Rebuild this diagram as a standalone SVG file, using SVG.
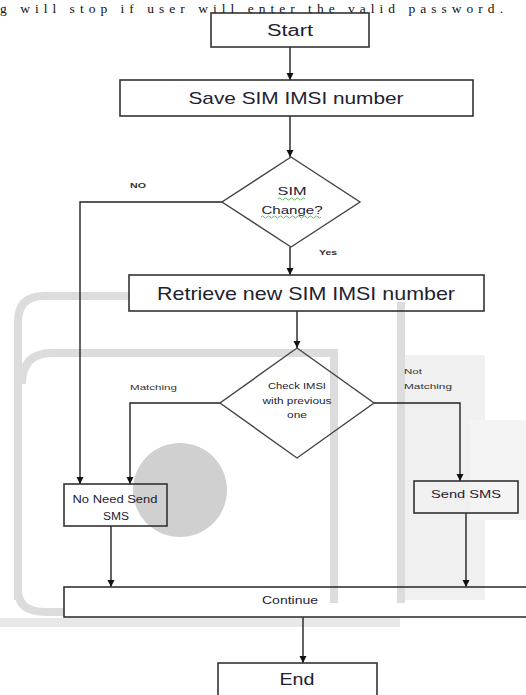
<svg xmlns="http://www.w3.org/2000/svg" width="526" height="695" viewBox="0 0 526 695">
<style>
.box{fill:none;stroke:#333;stroke-width:1.6}
.dia{fill:none;stroke:#444;stroke-width:1.4}
.t{font-family:"Liberation Sans",Arial,sans-serif;fill:#1e2233;text-anchor:middle;dominant-baseline:central}
.s{font-family:"Liberation Sans",Arial,sans-serif;fill:#333;dominant-baseline:central}
.c{fill:none;stroke:#222;stroke-width:1.4}
.wm{fill:none;stroke:#dcdcdc;stroke-width:8}
</style>
<defs>
<marker id="ah" markerUnits="userSpaceOnUse" markerWidth="8" markerHeight="8" refX="7" refY="4" orient="auto">
<path d="M0,0.5 L7,4 L0,7.5 z" fill="#111"/>
</marker>
</defs>
<rect width="526" height="695" fill="#fff"/>
<text x="0" y="12.5" font-family="'Liberation Serif','Times New Roman',serif" font-size="13.5" fill="#111" textLength="503" lengthAdjust="spacing">g will stop if user will enter the valid password.</text>
<g id="watermark">
<rect x="405" y="355" width="80" height="245" fill="#f0f0f0"/>
<rect x="470" y="420" width="56" height="100" fill="#f4f4f4"/>
<path class="wm" d="M 18,600 L 18,322 Q 18,296 44,296 L 129,296"/>
<path class="wm" d="M 401,302 L 401,603"/>
<path class="wm" d="M 22,384 Q 22,353 52,353 L 334,353 L 334,603"/>
<path class="wm" d="M 18,590 Q 18,612 46,612 L 64,612"/>
<rect x="0" y="618" width="400" height="9" fill="#e8e8e8"/>
<circle cx="180" cy="490" r="47" fill="#d0d0d0"/>
</g>
<g id="connectors">
<line class="c" x1="290" y1="47" x2="290" y2="80" marker-end="url(#ah)"/>
<line class="c" x1="290" y1="116" x2="290" y2="157" marker-end="url(#ah)"/>
<polyline class="c" points="222,202 80,202 80,484" marker-end="url(#ah)"/>
<line class="c" x1="290" y1="247" x2="290" y2="275" marker-end="url(#ah)"/>
<line class="c" x1="297" y1="311" x2="297" y2="348" marker-end="url(#ah)"/>
<polyline class="c" points="220,403 130,403 130,484" marker-end="url(#ah)"/>
<polyline class="c" points="374,403 460,403 460,481" marker-end="url(#ah)"/>
<line class="c" x1="111" y1="526" x2="111" y2="587" marker-end="url(#ah)"/>
<line class="c" x1="466" y1="513" x2="466" y2="587" marker-end="url(#ah)"/>
<line class="c" x1="303" y1="617" x2="303" y2="663" marker-end="url(#ah)"/>
<text class="s" x="130" y="185" font-size="7" font-weight="bold" textLength="16" lengthAdjust="spacingAndGlyphs">NO</text>
<text class="s" x="319" y="252" font-size="7" font-weight="bold" textLength="18" lengthAdjust="spacingAndGlyphs">Yes</text>
<text class="s" x="130" y="387" font-size="8" textLength="47" lengthAdjust="spacingAndGlyphs">Matching</text>
<text class="s" x="404" y="371" font-size="8" textLength="18" lengthAdjust="spacingAndGlyphs">Not</text>
<text class="s" x="404" y="386" font-size="8" textLength="48" lengthAdjust="spacingAndGlyphs">Matching</text>
</g>
<g id="start">
<rect class="box" x="211" y="13" width="158" height="34"/>
<text class="t" x="290" y="30" font-size="16" textLength="46" lengthAdjust="spacingAndGlyphs">Start</text>
</g>
<g id="save">
<rect class="box" x="120" y="80" width="353" height="36"/>
<text class="t" x="296" y="98" font-size="17" textLength="215" lengthAdjust="spacingAndGlyphs">Save SIM IMSI number</text>
</g>
<g id="simchange">
<polygon class="dia" points="291,157 360,202 291,247 222,202"/>
<text class="t" x="292" y="191" font-size="11" textLength="29" lengthAdjust="spacingAndGlyphs">SIM</text>
<text class="t" x="292" y="210" font-size="11" textLength="61" lengthAdjust="spacingAndGlyphs">Change?</text>
<path d="M278,199 q1.5,-2 3,0 t3,0 t3,0 t3,0 t3,0 t3,0 t3,0 t3,0 t3,0 M261,217 q1.5,-2 3,0 t3,0 t3,0 t3,0 t3,0 t3,0 t3,0 t3,0 t3,0 t3,0 t3,0 t3,0 t3,0 t3,0 t3,0 t3,0 t3,0 t3,0 t3,0 t3,0" fill="none" stroke="#3aa63a" stroke-width="0.8"/>
</g>
<g id="retrieve">
<rect class="box" x="129" y="275" width="355" height="36"/>
<text class="t" x="306" y="293" font-size="19" textLength="298" lengthAdjust="spacingAndGlyphs">Retrieve new SIM IMSI number</text>
</g>
<g id="check">
<polygon class="dia" points="297,348 374,403 297,458 220,403"/>
<text class="t" x="297" y="386" font-size="8.5" textLength="58" lengthAdjust="spacingAndGlyphs">Check IMSI</text>
<text class="t" x="297" y="401" font-size="8.5" textLength="69" lengthAdjust="spacingAndGlyphs">with previous</text>
<text class="t" x="297" y="415" font-size="8.5" textLength="20" lengthAdjust="spacingAndGlyphs">one</text>
</g>
<g id="noneed">
<rect class="box" x="64" y="484" width="103" height="42"/>
<text class="t" x="115" y="499" font-size="10" textLength="85" lengthAdjust="spacingAndGlyphs">No Need Send</text>
<text class="t" x="116" y="516" font-size="10" textLength="26" lengthAdjust="spacingAndGlyphs">SMS</text>
</g>
<g id="sendsms">
<rect class="box" x="414" y="481" width="104" height="32"/>
<text class="t" x="466" y="494" font-size="11.5" textLength="70" lengthAdjust="spacingAndGlyphs">Send SMS</text>
</g>
<g id="continue">
<rect class="box" x="64" y="587" width="470" height="30"/>
<text class="t" x="290" y="600" font-size="11" textLength="56" lengthAdjust="spacingAndGlyphs">Continue</text>
</g>
<g id="end">
<rect class="box" x="218" y="663" width="159" height="40"/>
<text class="t" x="297" y="679" font-size="16" textLength="35" lengthAdjust="spacingAndGlyphs">End</text>
</g>
</svg>
